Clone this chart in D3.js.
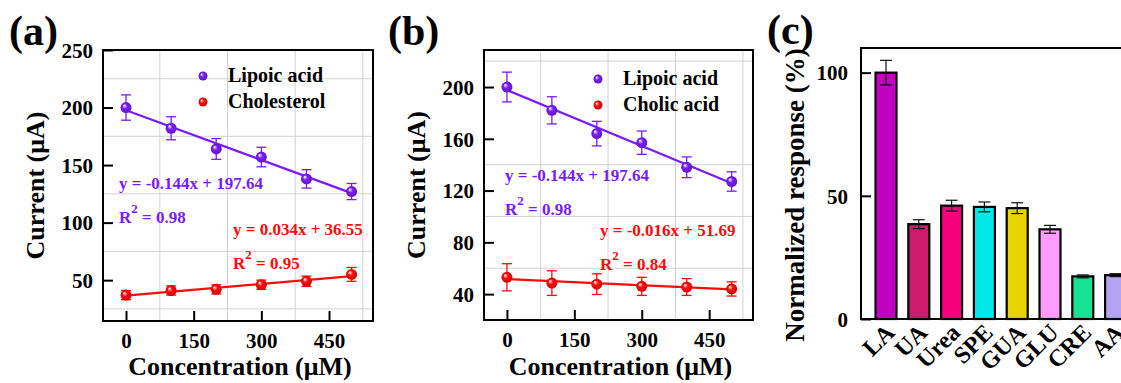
<!DOCTYPE html>
<html>
<head>
<meta charset="utf-8">
<script src="https://cdn.jsdelivr.net/npm/d3@7"></script>
<style>
  body { margin: 0; background: #fff; }
  svg { display: block; font-family: "Liberation Serif", "Times New Roman", serif; font-weight: bold; }
</style>
</head>
<body>
<script>
// data
const conc = [0, 100, 200, 300, 400, 500];

const lipoicA = [200, 182, 164, 157, 138, 127];
const lipoicAErr = [11, 10, 9, 8.5, 8, 7];
const cholesterol = [37, 41, 42, 46, 49, 55];
const cholesterolErr = [4, 4, 4, 4, 4.5, 6];

const lipoicB = [200, 182, 164, 157, 138, 127];
const lipoicBErr = [11.5, 10.5, 9.5, 9, 8, 7.5];
const cholic = [53, 48.5, 47.7, 46, 45.5, 44];
const cholicErr = [10.5, 9.5, 8, 7, 6.5, 5.5];

const xTicks = [0, 150, 300, 450];
const xGrid = [75, 225, 375, 525];
const yTicksA = [50, 100, 150, 200, 250];
const yGridA = [25, 75, 125, 175, 225];
const yTicksB = [40, 80, 120, 160, 200];
const yGridB = [60, 100, 140, 220];

const analytes = ["LA", "UA", "Urea", "SPE", "GUA", "GLU", "CRE", "AA"];
const response = [100, 38.5, 46, 45.5, 45, 36.4, 17.3, 17.8];
const responseErr = [5, 1.8, 2.2, 2, 2.2, 1.6, 0.6, 0.6];
const barColors = ["#c200c4", "#cc1a6e", "#f7007c", "#00e9e9", "#e8d400", "#ff9cff", "#14e394", "#b3a3f2"];
const yTicksC = [0, 50, 100];

const purple = "#7a1cf5";
const red = "#ff0a0a";

const svg = d3.select("body").append("svg")
  .attr("width", 1121)
  .attr("height", 383);

const defs = svg.append("defs");
function sphere(id, col) {
  let gr = defs.append("radialGradient").attr("id", id)
    .attr("cx", "50%").attr("cy", "50%").attr("r", "50%")
    .attr("fx", "32%").attr("fy", "30%");
  gr.append("stop").attr("offset", "0%").attr("stop-color", "#ffffff");
  gr.append("stop").attr("offset", "45%").attr("stop-color", col);
  gr.append("stop").attr("offset", "100%").attr("stop-color", d3.color(col).darker(0.6));
}
sphere("gPurple", purple);
sphere("gRed", red);

function styleAxis(a) {
  a.attr("font-family", null).attr("font-size", null);
  a.select(".domain").remove();
  a.selectAll("line").attr("stroke", "#000").attr("stroke-width", 2);
  a.selectAll("text").attr("font-size", 21).attr("fill", "#000");
}

function scatterPanel(o) {
  let g = svg.append("g");
  let x = d3.scaleLinear().domain([-51, 547.5]).range([o.left, o.right]);
  let y = d3.scaleLinear().domain(o.yDom).range([o.bottom, o.top]);

  // grid
  g.selectAll(".gx").data(xGrid).enter().append("line")
    .attr("x1", d => x(d)).attr("x2", d => x(d))
    .attr("y1", o.top).attr("y2", o.bottom)
    .attr("stroke", "#d2d2d2").attr("stroke-width", 1);
  g.selectAll(".gy").data(o.yGrid).enter().append("line")
    .attr("x1", o.left).attr("x2", o.right)
    .attr("y1", d => y(d)).attr("y2", d => y(d))
    .attr("stroke", "#d2d2d2").attr("stroke-width", 1);

  // axes, ticks inward
  let xAxis = g.append("g").attr("transform", `translate(0,${o.bottom})`)
    .call(d3.axisBottom(x).tickValues(xTicks).tickSizeInner(-10).tickSizeOuter(0).tickPadding(12));
  let yAxis = g.append("g").attr("transform", `translate(${o.left},0)`)
    .call(d3.axisLeft(y).tickValues(o.yTicks).tickSizeInner(-10).tickSizeOuter(0).tickPadding(10));
  styleAxis(xAxis);
  styleAxis(yAxis);
  yAxis.selectAll("text").attr("dy", "0.35em");

  g.append("rect")
    .attr("x", o.left).attr("y", o.top)
    .attr("width", o.right - o.left).attr("height", o.bottom - o.top)
    .attr("fill", "none").attr("stroke", "#000").attr("stroke-width", 2);

  // series
  o.series.forEach(s => {
    let pts = conc.map((c, i) => ({ c: c, v: s.vals[i], e: s.err[i] }));
    g.append("line")
      .attr("x1", x(0)).attr("x2", x(500))
      .attr("y1", y(s.b)).attr("y2", y(s.m * 500 + s.b))
      .attr("stroke", s.col).attr("stroke-width", 2.2);
    let eb = g.selectAll(null).data(pts).enter().append("g").attr("stroke", s.col).attr("stroke-width", 1.3);
    eb.append("line").attr("x1", d => x(d.c)).attr("x2", d => x(d.c))
      .attr("y1", d => y(d.v - d.e)).attr("y2", d => y(d.v + d.e));
    eb.append("line").attr("x1", d => x(d.c) - 5).attr("x2", d => x(d.c) + 5)
      .attr("y1", d => y(d.v + d.e)).attr("y2", d => y(d.v + d.e));
    eb.append("line").attr("x1", d => x(d.c) - 5).attr("x2", d => x(d.c) + 5)
      .attr("y1", d => y(d.v - d.e)).attr("y2", d => y(d.v - d.e));
    g.selectAll(null).data(pts).enter().append("circle")
      .attr("cx", d => x(d.c)).attr("cy", d => y(d.v)).attr("r", 5.5)
      .attr("fill", `url(#${s.grad})`);
  });

  // legend
  o.series.forEach((s, i) => {
    g.append("circle").attr("cx", o.legX).attr("cy", o.legY + i * 26).attr("r", 4.5)
      .attr("fill", `url(#${s.grad})`);
    g.append("text").attr("x", o.legX + 25).attr("y", o.legY + i * 26 + 6)
      .attr("font-size", 20).text(s.name);
  });

  // equations
  o.series.forEach(s => {
    g.append("text").attr("x", s.eqX).attr("y", s.eqY)
      .attr("font-size", 17).attr("fill", s.col).text(s.eq);
    let r = g.append("text").attr("x", s.eqX).attr("y", s.eqY + 34)
      .attr("font-size", 17).attr("fill", s.col);
    r.append("tspan").text("R");
    r.append("tspan").attr("dy", -10).attr("font-size", 13).text("2");
    r.append("tspan").attr("dy", 10).text(" = " + s.r2);
  });

  // labels
  svg.append("text").attr("x", o.labelX).attr("y", 45).attr("font-size", 42).text(o.label);
  svg.append("text")
    .attr("transform", `translate(${o.left - 59},${(o.top + o.bottom) / 2}) rotate(-90)`)
    .attr("text-anchor", "middle").attr("font-size", 26).text("Current (\u03bcA)");
  svg.append("text").attr("x", (o.left + o.right) / 2 + 2).attr("y", 375)
    .attr("text-anchor", "middle").attr("font-size", 26).text("Concentration (\u03bcM)");
}

scatterPanel({
  left: 103, right: 373, top: 50, bottom: 321,
  yDom: [14.5, 250], yTicks: yTicksA, yGrid: yGridA,
  legX: 203, legY: 76, label: "(a)", labelX: 9,
  series: [
    { name: "Lipoic acid", vals: lipoicA, err: lipoicAErr, col: purple, grad: "gPurple",
      m: -0.144, b: 197.64, eq: "y = -0.144x + 197.64", r2: "0.98", eqX: 119, eqY: 189 },
    { name: "Cholesterol", vals: cholesterol, err: cholesterolErr, col: red, grad: "gRed",
      m: 0.034, b: 36.55, eq: "y = 0.034x + 36.55", r2: "0.95", eqX: 233, eqY: 235 }
  ]
});

scatterPanel({
  left: 484, right: 753, top: 50, bottom: 320,
  yDom: [20, 228.6], yTicks: yTicksB, yGrid: yGridB,
  legX: 598, legY: 79, label: "(b)", labelX: 388,
  series: [
    { name: "Lipoic acid", vals: lipoicB, err: lipoicBErr, col: purple, grad: "gPurple",
      m: -0.144, b: 197.64, eq: "y = -0.144x + 197.64", r2: "0.98", eqX: 505, eqY: 181 },
    { name: "Cholic acid", vals: cholic, err: cholicErr, col: red, grad: "gRed",
      m: -0.016, b: 51.69, eq: "y = -0.016x + 51.69", r2: "0.84", eqX: 600, eqY: 236 }
  ]
});

// panel (c) bar chart
const cLeft = 861, cTop = 48, cBottom = 319;
const xc = d3.scaleBand().domain(analytes).range([863.7, 1137.9]).padding(0.36);
const yc = d3.scaleLinear().domain([0, 110]).range([cBottom, cTop]);
const gc = svg.append("g");

gc.selectAll(".bar").data(analytes).enter().append("rect")
  .attr("x", d => xc(d)).attr("y", (d, i) => yc(response[i]))
  .attr("width", xc.bandwidth()).attr("height", (d, i) => cBottom - yc(response[i]))
  .attr("fill", (d, i) => barColors[i]).attr("stroke", "#000").attr("stroke-width", 2.2);

const ebc = gc.selectAll(".eb").data(analytes).enter().append("g")
  .attr("stroke", "#111").attr("stroke-width", 1.2);
ebc.append("line")
  .attr("x1", d => xc(d) + xc.bandwidth() / 2).attr("x2", d => xc(d) + xc.bandwidth() / 2)
  .attr("y1", (d, i) => yc(response[i] - responseErr[i])).attr("y2", (d, i) => yc(response[i] + responseErr[i]));
[1, -1].forEach(sg => {
  ebc.append("line")
    .attr("x1", d => xc(d) + xc.bandwidth() / 2 - 6).attr("x2", d => xc(d) + xc.bandwidth() / 2 + 6)
    .attr("y1", (d, i) => yc(response[i] + sg * responseErr[i])).attr("y2", (d, i) => yc(response[i] + sg * responseErr[i]));
});

const yAxC = gc.append("g").attr("transform", `translate(${cLeft},0)`)
  .call(d3.axisLeft(yc).tickValues(yTicksC).tickSizeInner(-10).tickSizeOuter(0).tickPadding(13));
styleAxis(yAxC);
yAxC.selectAll("text").attr("dy", "0.35em");

gc.append("path")
  .attr("d", `M1140,${cTop}H${cLeft}V${cBottom}H1140`)
  .attr("fill", "none").attr("stroke", "#000").attr("stroke-width", 2);

gc.selectAll(".xl").data(analytes).enter().append("text")
  .attr("transform", d => `translate(${xc(d) + xc.bandwidth() / 2 + 4},${cBottom + 9}) rotate(-45)`)
  .attr("text-anchor", "end").attr("dy", "0.35em").attr("font-size", 24).text(d => d);

svg.append("text").attr("x", 767).attr("y", 44).attr("font-size", 42).text("(c)");
svg.append("text")
  .attr("transform", `translate(804,195) rotate(-90)`)
  .attr("text-anchor", "middle").attr("font-size", 27).text("Normalized response (%)");
</script>
</body>
</html>
